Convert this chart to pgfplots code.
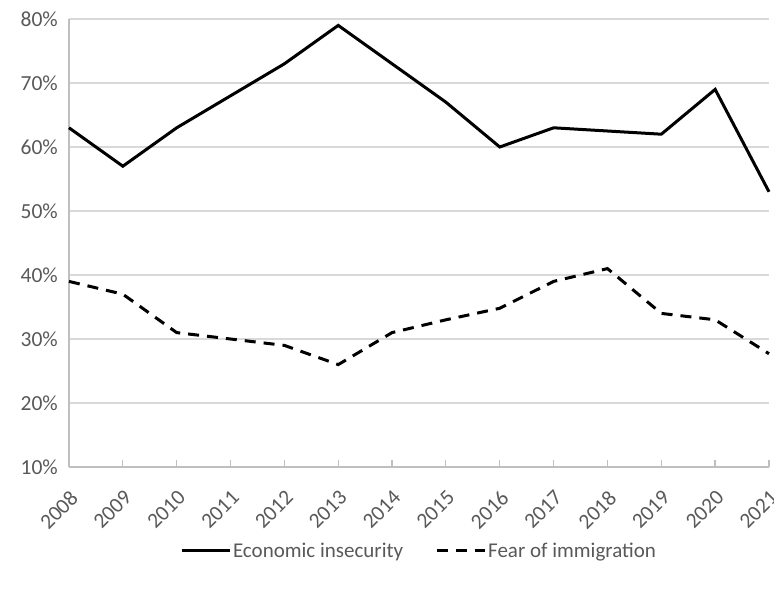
\documentclass[border=0pt]{standalone}
\usepackage{pgfplots}
\pgfplotsset{compat=1.18}
\usepackage{fontspec}
\setmainfont{Carlito}
\definecolor{txt}{HTML}{595959}
\definecolor{grid}{HTML}{D9D9D9}
\definecolor{axl}{HTML}{BFBFBF}
\begin{document}
\begin{tikzpicture}
\useasboundingbox (-69bp,-123bp) rectangle (705bp,467bp);
\begin{axis}[
  at={(0,0)}, anchor=south west,
  scale only axis, width=700bp, height=448bp,
  xmin=2008, xmax=2021, ymin=10, ymax=80,
  xtick={2008,...,2021}, ytick={10,20,...,80},
  /pgf/number format/assume math mode=true,
  xticklabel={\pgfmathprintnumber[1000 sep={}]{\tick}},
  yticklabel={\pgfmathprintnumber{\tick}\%},
  axis x line*=bottom, axis y line*=left,
  axis line style={axl, line width=1.2bp, -},
  xmajorgrids=false, ymajorgrids=true,
  y grid style={grid, line width=1.2bp},
  xtick style={draw=axl, line width=1.2bp}, ytick style={draw=none},
  tick align=inside, major tick length=7bp,
  xticklabel style={xshift=0bp, yshift=-22bp, rotate=45, anchor=north east, font=\fontsize{21.5bp}{24bp}\selectfont, text=txt, inner sep=0bp},
  yticklabel style={font=\fontsize{21.5bp}{24bp}\selectfont, text=txt, inner sep=3bp, xshift=-8bp},
  legend style={at={(0.5,-0.16)}, anchor=north, draw=none, legend columns=2,
    font=\fontsize{21bp}{24bp}\selectfont, text=txt,
    /tikz/every even column/.append style={column sep=30bp}},
  legend image code/.code={\draw[#1] (0bp,0bp) -- (48bp,0bp);},
  clip=false,
]
\addplot[black, line width=3bp] coordinates {
(2008,63) (2009,57) (2010,63) (2011,68) (2012,73) (2013,79) (2014,73)
(2015,67) (2016,60) (2017,63) (2018,62.5) (2019,62) (2020,69) (2021,53)};
\addlegendentry{Economic insecurity}
\addplot[black, line width=3bp, dash pattern=on 11bp off 8bp] coordinates {
(2008,39) (2009,37) (2010,31) (2011,30) (2012,29) (2013,26) (2014,31)
(2015,33) (2016,34.8) (2017,39) (2018,41) (2019,34) (2020,33) (2021,27.7)};
\addlegendentry{Fear of immigration}
\end{axis}
\end{tikzpicture}
\end{document}
